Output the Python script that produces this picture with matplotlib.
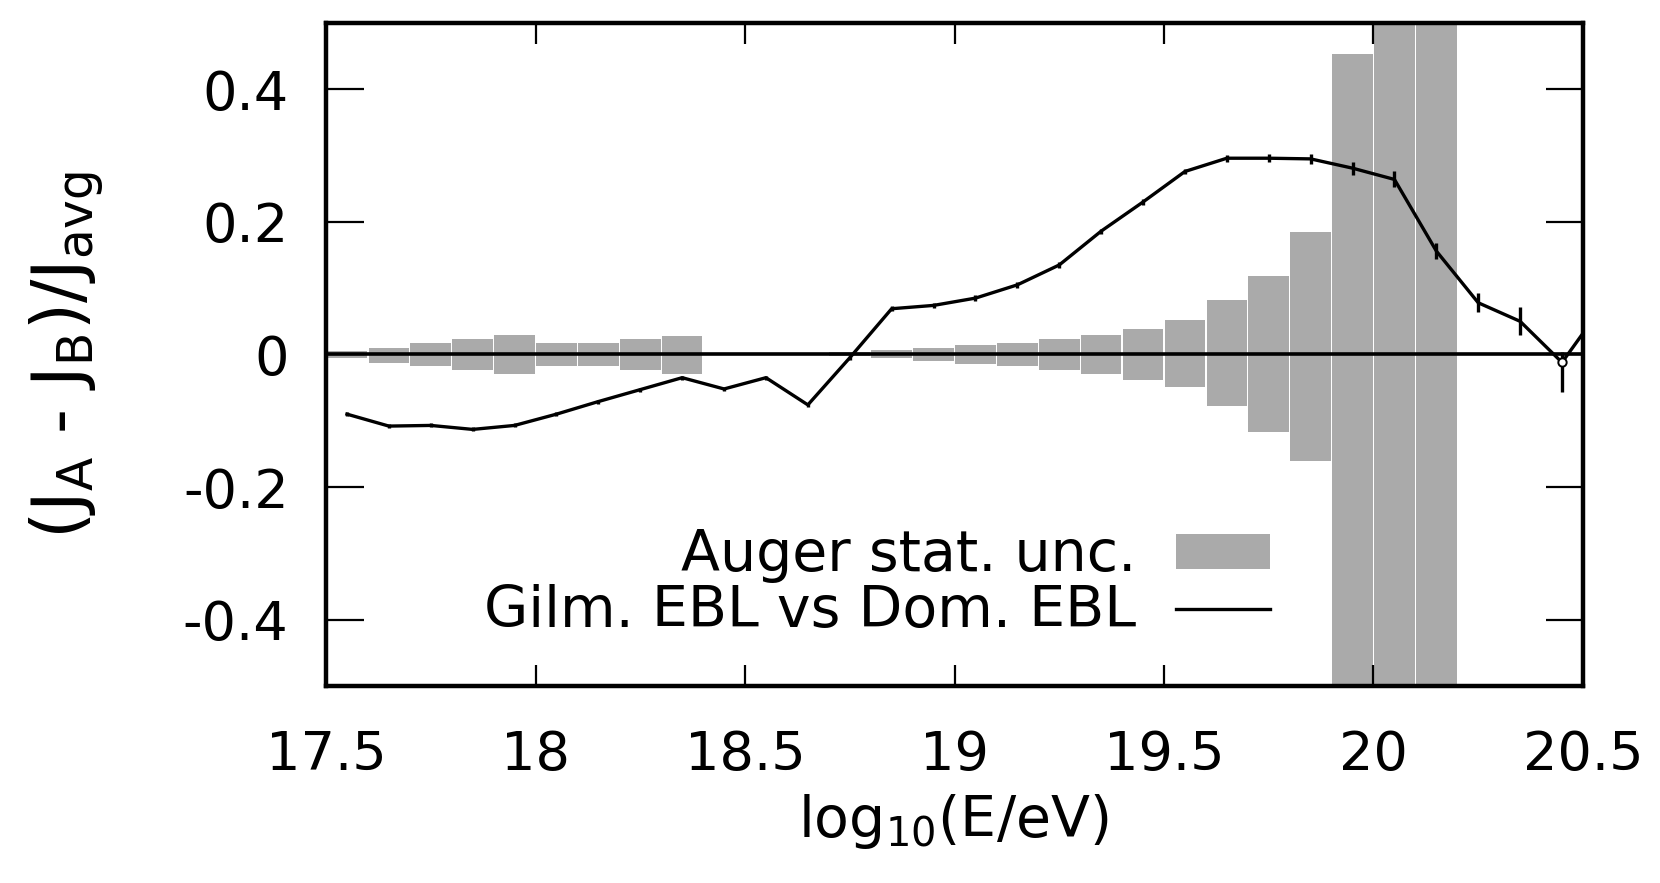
""" Relative flux difference between two EBL models vs Auger statistical uncertainty """
import matplotlib
matplotlib.use('Agg')
import numpy as np
from matplotlib import pyplot as plt
from matplotlib.patches import Patch
from matplotlib.lines import Line2D

plt.rcParams['font.family'] = ['DejaVu Sans']
plt.rcParams['mathtext.default'] = 'regular'

# energy bins (log10 E/eV), bin width 0.1
log_e = [17.55, 17.65, 17.75, 17.85, 17.95, 18.05, 18.15, 18.25, 18.35, 18.45,
         18.55, 18.65, 18.75, 18.85, 18.95, 19.05, 19.15, 19.25, 19.35, 19.45,
         19.55, 19.65, 19.75, 19.85, 19.95, 20.05, 20.15]

# Auger statistical uncertainty (relative), upper / lower side
auger_up = [0.005, 0.010, 0.018, 0.023, 0.029, 0.018, 0.018, 0.024, 0.028, 0.0,
            0.0, 0.0, 0.003, 0.0065, 0.010, 0.015, 0.017, 0.023, 0.029, 0.039,
            0.052, 0.082, 0.119, 0.184, 0.453, 1.0, 1.0]
auger_lo = [0.005, 0.013, 0.018, 0.024, 0.029, 0.018, 0.018, 0.024, 0.029, 0.0,
            0.0, 0.0, 0.003, 0.006, 0.010, 0.015, 0.018, 0.023, 0.029, 0.038,
            0.049, 0.077, 0.117, 0.161, 1.0, 1.0, 1.0]

# (J_A - J_B)/J_avg for Gilmore vs Dominguez EBL
log_e_model = [17.55, 17.65, 17.75, 17.85, 17.95, 18.05, 18.15, 18.25, 18.35, 18.45,
               18.55, 18.65, 18.75, 18.85, 18.95, 19.05, 19.15, 19.25, 19.35, 19.45,
               19.55, 19.65, 19.75, 19.85, 19.95, 20.05, 20.15, 20.25, 20.35, 20.45,
               20.55]
rel_diff = [-0.090, -0.108, -0.107, -0.113, -0.107, -0.090, -0.071, -0.053, -0.035, -0.052,
            -0.035, -0.076, -0.005, 0.069, 0.074, 0.085, 0.105, 0.135, 0.186, 0.230,
            0.276, 0.296, 0.296, 0.295, 0.281, 0.264, 0.156, 0.078, 0.050, -0.012,
            0.076]
rel_err_lo = [0.003, 0.003, 0.003, 0.003, 0.003, 0.003, 0.003, 0.003, 0.003, 0.003,
              0.003, 0.003, 0.003, 0.004, 0.004, 0.004, 0.004, 0.004, 0.004, 0.004,
              0.004, 0.005, 0.006, 0.007, 0.010, 0.012, 0.012, 0.014, 0.021, 0.045,
              0.050]
rel_err_hi = [0.003, 0.003, 0.003, 0.003, 0.003, 0.003, 0.003, 0.003, 0.003, 0.003,
              0.003, 0.003, 0.003, 0.004, 0.004, 0.004, 0.004, 0.004, 0.004, 0.004,
              0.004, 0.005, 0.006, 0.007, 0.010, 0.012, 0.012, 0.014, 0.021, 0.015,
              0.050]

x_ticks = [17.5, 18.0, 18.5, 19.0, 19.5, 20.0, 20.5]
x_tick_labels = ['17.5', '18', '18.5', '19', '19.5', '20', '20.5']
y_ticks = [-0.4, -0.2, 0.0, 0.2, 0.4]
y_tick_labels = ['-0.4', '-0.2', '0', '0.2', '0.4']

GRAY = '#aaaaaa'
FS = 39

fig = plt.figure(figsize=(16.6, 8.83), dpi=100)
ax = fig.add_axes([0.1964, 0.2231, 0.7572, 0.7509])

# uncertainty band as boxes around zero
up = np.array(auger_up)
lo = np.array(auger_lo)
ax.bar(log_e, up + lo, bottom=-lo, width=0.097, color=GRAY, linewidth=0, zorder=1)

ax.axhline(0.0, color='black', linewidth=2.6, zorder=2)

# model curve with its error bars; open points only where the curve dips at the end
ax.errorbar(log_e_model, rel_diff, yerr=[rel_err_lo, rel_err_hi],
            color='black', linewidth=2.4, elinewidth=2.4, capsize=0,
            marker='o', markersize=6, markerfacecolor='white',
            markeredgewidth=1.4, markevery=[29, 30], zorder=3)

ax.set_xlim(17.5, 20.5)
ax.set_ylim(-0.5, 0.5)
ax.set_xticks(x_ticks)
ax.set_xticklabels(x_tick_labels)
ax.set_yticks(y_ticks)
ax.set_yticklabels(y_tick_labels)
ax.tick_params(axis='x', direction='in', top=True, bottom=True, length=15,
               width=1.6, pad=31, labelsize=FS)
ax.tick_params(axis='y', direction='in', left=True, right=True, length=27,
               width=1.6, pad=27, labelsize=FS)
for sp in ax.spines.values():
    sp.set_linewidth(3.2)
    sp.set_zorder(5)

fig.text(0.040, 0.598, r'(J$_{A}$ - J$_{B}$)/J$_{avg}$', rotation=90,
         ha='center', va='center', fontsize=50)
fig.text(0.574, 0.070, r'log$_{10}$(E/eV)', ha='center', va='center', fontsize=41)

handles = [Patch(facecolor=GRAY, edgecolor='none'),
           Line2D([], [], color='black', linewidth=2.4)]
labels = ['Auger stat. unc.', 'Gilm. EBL vs Dom. EBL']
ax.legend(handles, labels, loc='center right', bbox_to_anchor=(0.751, 0.154),
          frameon=False, markerfirst=False, alignment='right', fontsize=41,
          handlelength=1.65, handleheight=0.57, handletextpad=0.7,
          labelspacing=0.02, borderpad=0, borderaxespad=0)

plt.savefig('out.png', dpi=100)
